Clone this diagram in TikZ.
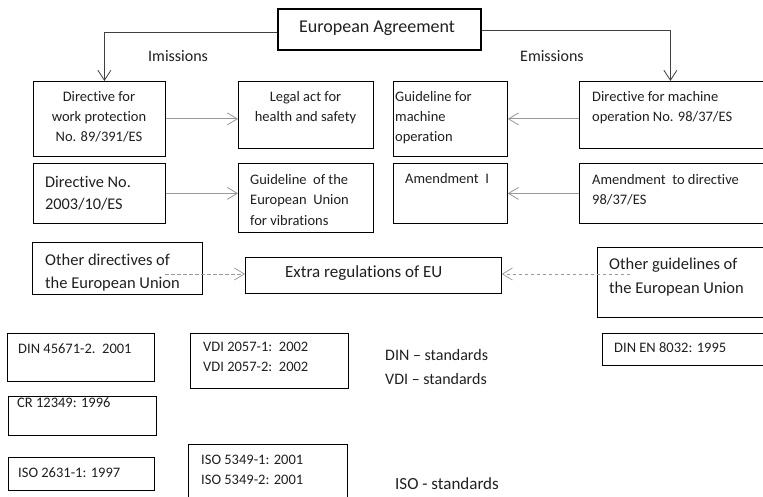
\documentclass[tikz,border=0pt]{standalone}
\usepackage{fontspec}
\setmainfont{Carlito}[Ligatures={NoCommon}]
\usetikzlibrary{arrows.meta}
\newcommand\setfs[2]{\fontsize{#1}{#2}\selectfont}
\newcommand\mybox[5]{\node[boxn, minimum width={#4-#2}, minimum height={#5-#3}] (#1) at (#2,#3) {};}
\begin{document}
\begin{tikzpicture}[x=1pt,y=-1pt,
  boxn/.style={draw=black, line width=0.8pt, rectangle, inner sep=0pt, anchor=north west},
  txtl/.style={inner sep=0pt, anchor=north west, align=left, text=black!88},
  txtc/.style={inner sep=0pt, anchor=north, align=center, text=black!88},
  txtb/.style={inner sep=0pt, anchor=base west, text=black!88},
  carrow/.style={draw=black!75, line width=0.8pt, -{Straight Barb[length=10pt,width=13pt]}},
  garrow/.style={draw=black!40, line width=0.8pt, -{Straight Barb[length=10pt,width=12pt]}},
  darrow/.style={draw=black!40, line width=0.7pt, dash pattern=on 3.5pt off 2.5pt, -{Straight Barb[length=10pt,width=12pt]}}]
\useasboundingbox (0,0) rectangle (763,497);
\clip (0,0) rectangle (763,497);

% boxes
\node[boxn, line width=1.8pt, minimum width=203, minimum height=41] (ea) at (277,8) {};
\mybox{b1}{33}{81}{165}{156}
\mybox{b2}{238}{81}{373}{148}
\mybox{b3}{393}{81}{507}{156}
\mybox{b4}{579}{81}{770}{148}
\mybox{b5}{33}{163}{165}{223}
\mybox{b6}{238}{163}{373}{232}
\mybox{b7}{393}{163}{507}{223}
\mybox{b8}{579}{163}{770}{223}
\mybox{b9}{32}{242}{202}{294}
\mybox{b10}{245}{257}{501}{293}
\mybox{b11}{597}{247}{770}{317}
\mybox{s1}{7}{333}{154}{381}
\mybox{s2}{190}{333}{348}{388}
\mybox{s3}{8}{396}{156}{435}
\mybox{s4}{8}{457}{154}{490}
\mybox{s5}{188}{444}{347}{510}
\mybox{s6}{602}{333}{770}{365}

% texts
\node[txtb, font=\setfs{18}{21}] (tea) at (299,32.5) {European Agreement};
\node[txtb, font=\setfs{16}{19}] (tim) at (148,61.7) {Imissions};
\node[txtb, font=\setfs{16}{19}] (tem) at (520,61.7) {Emissions};
\node[txtc, font=\setfs{14.5}{20}] (t1) at (99,87.7) {\strut Directive for\\work protection\\No. 89/391/ES};
\node[txtc, font=\setfs{14.5}{20}] (t2) at (305.5,87.7) {\strut Legal act for\\health and safety};
\node[txtl, font=\setfs{14.5}{20}] (t3) at (395,87.7) {\strut Guideline for\\machine\\operation};
\node[txtl, font=\setfs{14.5}{20}] (t4) at (592,87.7) {\strut Directive for machine\\operation No. 98/37/ES};
\node[txtl, font=\setfs{16.3}{22}] (t5) at (45,171.6) {\strut Directive No.\\2003/10/ES};
\node[txtl, font=\setfs{14.5}{20.5}] (t6) at (250,169.65) {\strut Guideline\ \ of the\\European\ \ Union\\for vibrations};
\node[txtb, font=\setfs{14.5}{20}] (t7) at (405,184) {Amendment\ \ I};
\node[txtl, font=\setfs{14.5}{20.5}] (t8) at (592,169.65) {\strut Amendment\ \ to directive\\98/37/ES};
\begin{scope}
\clip (32,242) rectangle (202,293.3);
\node[txtl, font=\setfs{16.5}{23}] (t9) at (45,249.4) {\strut Other directives of\\the European Union};
\end{scope}
\node[txtb, font=\setfs{17}{21}] (t10) at (285,277.7) {Extra regulations of EU};
\node[txtl, font=\setfs{16.5}{24}] (t11) at (609,252.5) {\strut Other guidelines of\\the European Union};
\node[txtb, font=\setfs{14.5}{20}] (ts1) at (18,353.5) {DIN 45671-2.\ \ 2001};
\node[txtl, font=\setfs{14.5}{20}] (ts2) at (203,337.7) {\strut VDI 2057-1:\ \ 2002\\VDI 2057-2:\ \ 2002};
\node[txtb, font=\setfs{14.5}{20}] (ts3) at (17,407) {CR 12349: 1996};
\node[txtb, font=\setfs{14.5}{20}] (ts4) at (18,477.5) {ISO 2631-1: 1997};
\node[txtl, font=\setfs{14.5}{20}] (ts5) at (201,450.3) {\strut ISO 5349-1: 2001\\ISO 5349-2: 2001};
\node[txtb, font=\setfs{14.5}{20}] (ts6) at (614,352.5) {DIN EN 8032: 1995};
\node[txtb, font=\setfs{16}{20}] (tdin) at (385,360.5) {DIN -- standards};
\node[txtb, font=\setfs{16}{20}] (tvdi) at (385,384.5) {VDI -- standards};
\node[txtb, font=\setfs{17}{20}] (tiso) at (395,489) {ISO - standards};

% connectors
\draw[carrow] ([yshift=-3.5pt]ea.west) -| ([xshift=5pt]b1.north);
\draw[carrow] ([yshift=-1.5pt]ea.east) -| ([xshift=-4.5pt]b4.north);
\draw[garrow] (b1.east) -- (b1.east -| b2.west);
\draw[garrow] (b5.east) -- (b5.east -| b6.west);
\draw[garrow] (b3.east -| b4.west) -- (b3.east);
\draw[garrow] (b8.west) -- (b8.west -| b7.east);
\coordinate (d1) at (165,274);
\coordinate (d2) at (630,274);
\draw[darrow] (d1) -- (d1 -| b10.west);
\draw[darrow] (d2) -- (d2 -| b10.east);
\end{tikzpicture}
\end{document}
